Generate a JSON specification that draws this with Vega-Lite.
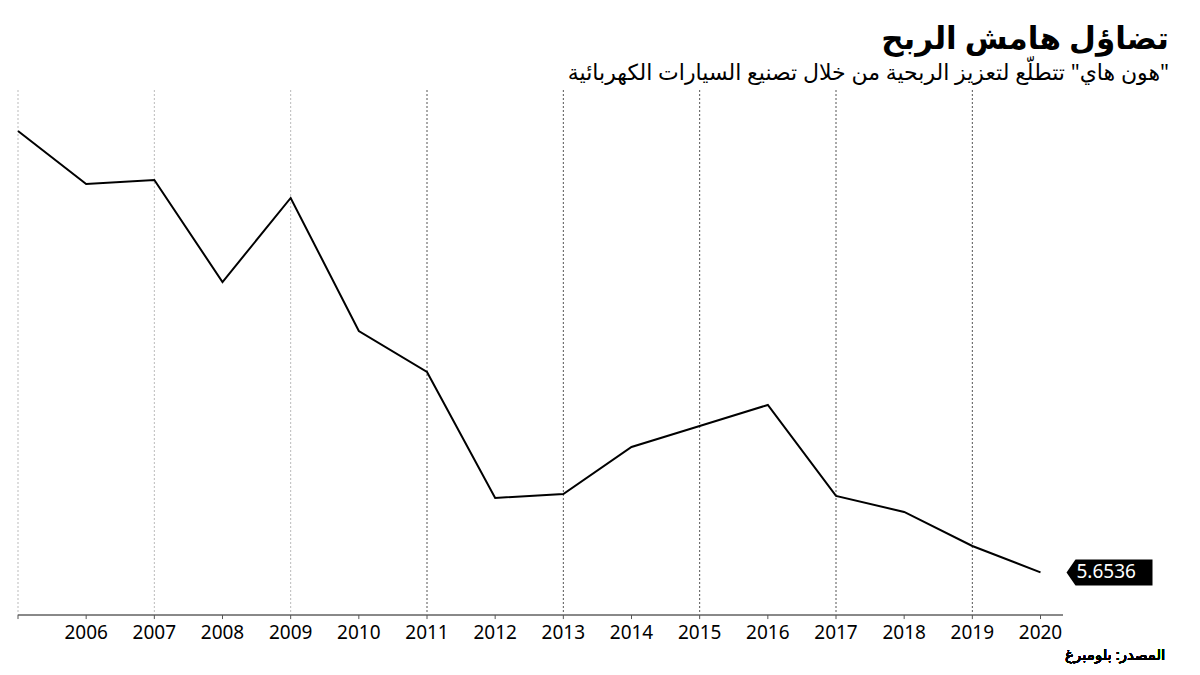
{
  "$schema": "https://vega.github.io/schema/vega-lite/v6.json",
  "autosize": "none",
  "width": 1045,
  "height": 525,
  "padding": {"left": 18, "top": 90, "right": 137, "bottom": 60},
  "background": "white",
  "config": {
    "font": "Noto Sans, DejaVu Sans",
    "view": {"stroke": null}
  },
  "title": {
    "text": "‏تضاؤل هامش الربح‏",
    "subtitle": "‏\"هون هاي\" تتطلّع لتعزيز الربحية من خلال تصنيع السيارات الكهربائية‏",
    "anchor": "end",
    "frame": "group",
    "dx": 106,
    "offset": 5,
    "fontSize": 31,
    "fontWeight": "bold",
    "color": "#000000",
    "subtitleFontSize": 22,
    "subtitleColor": "#000000",
    "subtitlePadding": 7
  },
  "data": {"values": [
    {"year": 2005, "margin": 10.228},
    {"year": 2006, "margin": 9.679},
    {"year": 2007, "margin": 9.72},
    {"year": 2008, "margin": 8.663},
    {"year": 2009, "margin": 9.534},
    {"year": 2010, "margin": 8.155},
    {"year": 2011, "margin": 7.731},
    {"year": 2012, "margin": 6.425},
    {"year": 2013, "margin": 6.466},
    {"year": 2014, "margin": 6.953},
    {"year": 2015, "margin": 7.17},
    {"year": 2016, "margin": 7.389},
    {"year": 2017, "margin": 6.446},
    {"year": 2018, "margin": 6.28},
    {"year": 2019, "margin": 5.927},
    {"year": 2020, "margin": 5.6536}
  ]},
  "layer": [
    {
      "data": {"values": [
        {"gy": 2005}, {"gy": 2007}, {"gy": 2009}, {"gy": 2011},
        {"gy": 2013}, {"gy": 2015}, {"gy": 2017}, {"gy": 2019}
      ]},
      "mark": {"type": "rule", "strokeDash": [2, 2], "strokeWidth": 1},
      "encoding": {
        "x": {"field": "gy", "type": "quantitative", "axis": null, "scale": {"domain": [2005, 2020.33], "nice": false, "zero": false}},
        "color": {"condition": {"test": "datum.gy < 2010", "value": "#bbbbbb"}, "value": "#555555"}
      }
    },
    {
      "mark": {"type": "rule", "color": "#888888", "strokeWidth": 1},
      "encoding": {
        "x": {"datum": 2005, "type": "quantitative", "axis": null, "scale": {"domain": [2005, 2020.33], "nice": false, "zero": false}},
        "x2": {"datum": 2020.33},
        "y": {"datum": 5.212, "type": "quantitative", "axis": null, "scale": {"domain": [5.212, 10.653], "nice": false, "zero": false}}
      }
    },
    {
      "mark": {"type": "rule", "color": "#555555", "strokeWidth": 1},
      "encoding": {
        "x": {"field": "year", "type": "quantitative", "axis": null, "scale": {"domain": [2005, 2020.33], "nice": false, "zero": false}},
        "y": {"datum": 5.212, "type": "quantitative", "axis": null, "scale": {"domain": [5.212, 10.653], "nice": false, "zero": false}},
        "y2": {"datum": 5.17}
      }
    },
    {
      "transform": [{"filter": "datum.year > 2005"}],
      "mark": {"type": "text", "align": "center", "baseline": "top", "dy": 9, "fontSize": 19, "color": "#000000"},
      "encoding": {
        "x": {"field": "year", "type": "quantitative", "axis": null, "scale": {"domain": [2005, 2020.33], "nice": false, "zero": false}},
        "y": {"datum": 5.212, "type": "quantitative", "axis": null, "scale": {"domain": [5.212, 10.653], "nice": false, "zero": false}},
        "text": {"field": "year", "type": "quantitative", "format": "d"}
      }
    },
    {
      "mark": {"type": "text", "text": "‏المصدر: بلومبرغ‏", "align": "right", "baseline": "top", "fontSize": 15, "color": "#000000"},
      "encoding": {
        "x": {"datum": 2021.83, "type": "quantitative", "axis": null, "scale": {"domain": [2005, 2020.33], "nice": false, "zero": false}},
        "y": {"datum": 4.87, "type": "quantitative", "axis": null, "scale": {"domain": [5.212, 10.653], "nice": false, "zero": false}}
      }
    },
    {
      "mark": {"type": "line", "color": "#000000", "strokeWidth": 2},
      "encoding": {
        "x": {"field": "year", "type": "quantitative", "axis": null, "scale": {"domain": [2005, 2020.33], "nice": false, "zero": false}},
        "y": {
          "field": "margin",
          "type": "quantitative",
          "scale": {"domain": [5.212, 10.653], "nice": false, "zero": false},
          "axis": {
            "orient": "right",
            "title": "‏أجمالي هامش الربح (%)‏",
            "titleAngle": 90,
            "titleX": 102,
            "titleY": 275,
            "titleAlign": "center",
            "titleBaseline": "middle",
            "titleFontSize": 16,
            "titleFontWeight": "normal",
            "titleColor": "#000000",
            "values": [5.5, 6, 6.5, 7, 7.5, 8, 8.5, 9, 9.5, 10, 10.5],
            "format": ".4f",
            "labelExpr": "datum.value % 1 == 0 ? datum.label : ''",
            "labelFontSize": 19,
            "labelColor": "#000000",
            "labelPadding": 3,
            "domainColor": "#000000",
            "tickColor": "#000000",
            "tickSize": {"condition": {"test": "datum.value % 1 == 0", "value": 6}, "value": 4},
            "grid": true,
            "gridDash": [2, 2],
            "gridColor": {"condition": {"test": "datum.value % 1 == 0", "value": "#333333"}, "value": "transparent"}
          }
        }
      }
    },
    {
      "transform": [{"filter": "datum.year == 2020"}],
      "mark": {
        "type": "point",
        "shape": "M0.26,0 L0.35,-0.13 L1.12,-0.13 L1.12,0.13 L0.35,0.13 Z",
        "size": 40000,
        "filled": true,
        "fill": "#000000",
        "strokeWidth": 0,
        "opacity": 1
      },
      "encoding": {
        "x": {"field": "year", "type": "quantitative", "axis": null, "scale": {"domain": [2005, 2020.33], "nice": false, "zero": false}},
        "y": {"field": "margin", "type": "quantitative", "scale": {"domain": [5.212, 10.653], "nice": false, "zero": false}}
      }
    },
    {
      "transform": [{"filter": "datum.year == 2020"}],
      "mark": {
        "type": "text",
        "align": "left",
        "baseline": "middle",
        "dx": 36,
        "fontSize": 19,
        "color": "#ffffff"
      },
      "encoding": {
        "x": {"field": "year", "type": "quantitative", "axis": null, "scale": {"domain": [2005, 2020.33], "nice": false, "zero": false}},
        "y": {"field": "margin", "type": "quantitative", "scale": {"domain": [5.212, 10.653], "nice": false, "zero": false}},
        "text": {"field": "margin", "type": "quantitative", "format": ".4f"}
      }
    }
  ]
}
